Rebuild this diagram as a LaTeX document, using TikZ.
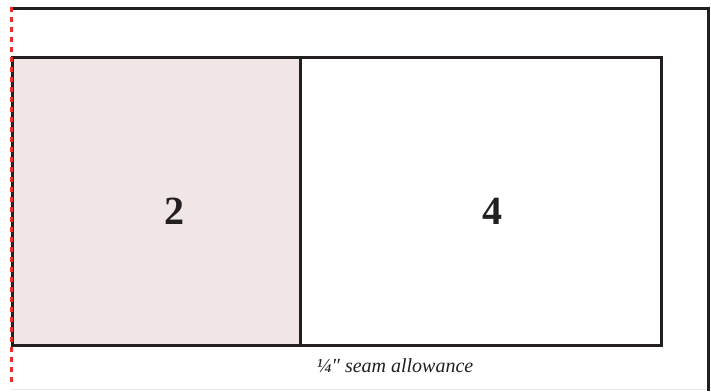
\documentclass[tikz,border=0pt]{standalone}
\usepackage{fontspec}
\setmainfont{Liberation Serif}
\definecolor{ink}{HTML}{231F20}
\definecolor{cellpink}{HTML}{EFE6E5}
\definecolor{seamred}{HTML}{EE2A2A}
\begin{document}
\begin{tikzpicture}[x=1pt,y=-1pt,
  frame/.style={draw=ink,line width=3pt},
  num/.style={font=\bfseries\fontsize{40}{40}\selectfont,text=ink},
  label/.style={font=\itshape\fontsize{20}{20}\selectfont,text=ink}]
\useasboundingbox (0,0) rectangle (711,391);
% outer frame
\draw[draw=black!8,line width=1.5pt] (11,389.5) -- (708,389.5);
\draw[frame] (11,8) -- (708,8) -- (708,391);
% blocks
\fill[cellpink] (11,56) rectangle (299,344);
\node[frame,minimum width=288pt,minimum height=288pt,inner sep=0pt,anchor=north west] (b2) at (11,56) {};
\node[frame,minimum width=361pt,minimum height=288pt,inner sep=0pt,anchor=north west] (b4) at (299,56) {};
\node[num] (n2) at (174,211) {2};
\node[num] (n4) at (492,211) {4};
\node[label] (seam) at (395,366) {¼″ seam allowance};
% seam line
\coordinate (st) at (11.5,7);
\coordinate (sb) at (11.5,386);
\draw[seamred,line width=3.5pt,dash pattern=on 5pt off 5pt] (st) -- (sb);
\end{tikzpicture}
\end{document}
